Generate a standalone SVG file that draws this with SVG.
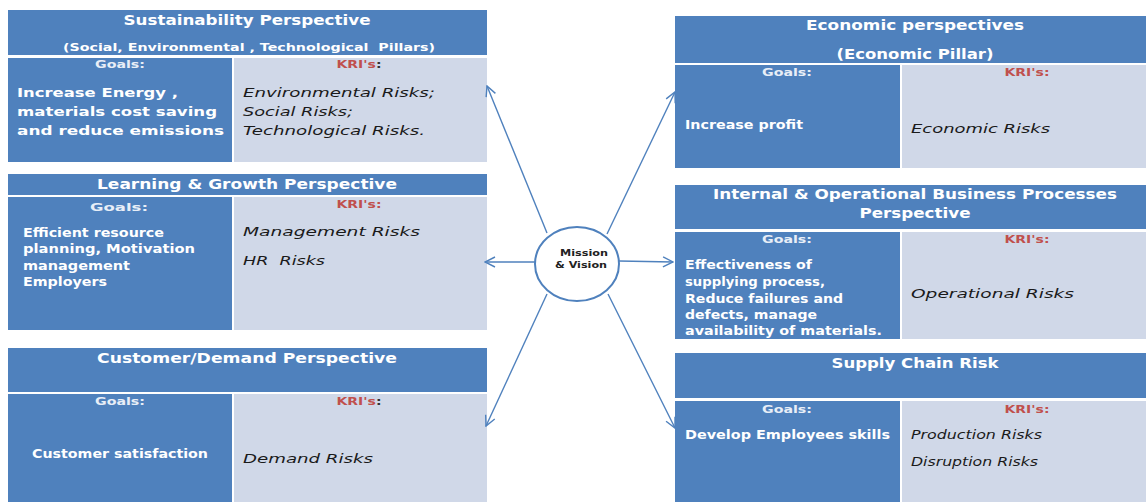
<svg xmlns="http://www.w3.org/2000/svg" width="1146" height="502" viewBox="0 0 1146 502">
<defs>
<style>
.hd{fill:#4F81BD}
.gl{fill:#4F81BD}
.kr{fill:#D0D8E8}
.t{font-family:"DejaVu Sans",Verdana,sans-serif;font-weight:bold;fill:#FFFFFF}
.title{font-size:13.5px;text-anchor:middle}
.sub{font-size:11px;text-anchor:middle}
.glab{font-size:11px;text-anchor:middle;fill:#E8EEF7}
.klab{font-family:"DejaVu Sans",Verdana,sans-serif;font-weight:bold;font-size:11px;text-anchor:middle;fill:#C0504D}
.body{font-size:11.5px}
.it{font-family:"DejaVu Sans",Verdana,sans-serif;font-style:italic;font-size:13px;fill:#1a1a1a}
.pre{white-space:pre}
.conn line{stroke:#4F81BD;stroke-width:1.4;fill:none}
.mv{font-family:"DejaVu Sans",Verdana,sans-serif;font-weight:bold;font-size:8.5px;fill:#222;text-anchor:middle}
</style>
<marker id="ah" viewBox="0 0 12 12" refX="11" refY="6" markerWidth="12" markerHeight="12" markerUnits="userSpaceOnUse" orient="auto">
<path d="M1,1 L11,6 L1,11" fill="none" stroke="#4F81BD" stroke-width="1.4"/>
</marker>
</defs>
<rect width="1146" height="502" fill="#FFFFFF"/>

<g id="sustainability">
<rect class="hd" x="8" y="10" width="479" height="45"/>
<rect class="gl" x="8" y="58" width="224" height="104"/>
<rect class="kr" x="234" y="58" width="253" height="104"/>
<text class="t title" x="247" y="25" textLength="247" lengthAdjust="spacingAndGlyphs">Sustainability Perspective</text>
<text class="t sub pre" x="249" y="51" textLength="372" lengthAdjust="spacingAndGlyphs">(Social, Environmental , Technological  Pillars)</text>
<text class="t glab" x="120" y="68" textLength="50" lengthAdjust="spacingAndGlyphs">Goals:</text>
<text class="klab" x="359" y="68" textLength="45" lengthAdjust="spacingAndGlyphs">KRI's<tspan fill="#333">:</tspan></text>
<text class="t" font-size="13" x="17" y="97" textLength="161" lengthAdjust="spacingAndGlyphs">Increase Energy ,</text>
<text class="t" font-size="13" x="17" y="116" textLength="200" lengthAdjust="spacingAndGlyphs">materials cost saving</text>
<text class="t" font-size="13" x="17" y="135" textLength="207" lengthAdjust="spacingAndGlyphs">and reduce emissions</text>
<text class="it" x="243" y="97" textLength="192" lengthAdjust="spacingAndGlyphs">Environmental Risks;</text>
<text class="it" x="243" y="116" textLength="110" lengthAdjust="spacingAndGlyphs">Social Risks;</text>
<text class="it" x="243" y="135" textLength="182" lengthAdjust="spacingAndGlyphs">Technological Risks.</text>
</g>

<g id="learning">
<rect class="hd" x="8" y="174" width="479" height="21"/>
<rect class="gl" x="8" y="197" width="224" height="133"/>
<rect class="kr" x="234" y="197" width="253" height="133"/>
<text class="t title" x="247" y="189" textLength="300" lengthAdjust="spacingAndGlyphs">Learning &amp; Growth Perspective</text>
<text class="t glab" font-size="13" x="119" y="211" textLength="58" lengthAdjust="spacingAndGlyphs">Goals:</text>
<text class="klab" x="359" y="208" textLength="45" lengthAdjust="spacingAndGlyphs">KRI's:</text>
<text class="t body" x="23" y="237" textLength="141" lengthAdjust="spacingAndGlyphs">Efficient resource</text>
<text class="t body" x="23" y="253" textLength="172" lengthAdjust="spacingAndGlyphs">planning, Motivation</text>
<text class="t body" x="23" y="270" textLength="107" lengthAdjust="spacingAndGlyphs">management</text>
<text class="t body" x="23" y="286" textLength="84" lengthAdjust="spacingAndGlyphs">Employers</text>
<text class="it" x="243" y="236" textLength="177" lengthAdjust="spacingAndGlyphs">Management Risks</text>
<text class="it pre" x="243" y="265" textLength="82" lengthAdjust="spacingAndGlyphs">HR  Risks</text>
</g>

<g id="customer">
<rect class="hd" x="8" y="348" width="479" height="44"/>
<rect class="gl" x="8" y="394" width="224" height="110"/>
<rect class="kr" x="234" y="394" width="253" height="110"/>
<text class="t title" x="247" y="363" textLength="300" lengthAdjust="spacingAndGlyphs">Customer/Demand Perspective</text>
<text class="t glab" x="120" y="405" textLength="50" lengthAdjust="spacingAndGlyphs">Goals:</text>
<text class="klab" x="359" y="405" textLength="45" lengthAdjust="spacingAndGlyphs">KRI's<tspan fill="#333">:</tspan></text>
<text class="t body" x="120" y="458" text-anchor="middle" textLength="176" lengthAdjust="spacingAndGlyphs">Customer satisfaction</text>
<text class="it" x="243" y="463" textLength="130" lengthAdjust="spacingAndGlyphs">Demand Risks</text>
</g>

<g id="economic">
<rect class="hd" x="675" y="16" width="473" height="47"/>
<rect class="gl" x="675" y="65" width="225" height="103"/>
<rect class="kr" x="902" y="65" width="246" height="103"/>
<text class="t title" x="915" y="30" textLength="218" lengthAdjust="spacingAndGlyphs">Economic perspectives</text>
<text class="t title" x="915" y="59" textLength="157" lengthAdjust="spacingAndGlyphs">(Economic Pillar)</text>
<text class="t glab" x="787" y="76" textLength="50" lengthAdjust="spacingAndGlyphs">Goals:</text>
<text class="klab" x="1027" y="76" textLength="45" lengthAdjust="spacingAndGlyphs">KRI's:</text>
<text class="t body" x="685" y="129" textLength="118" lengthAdjust="spacingAndGlyphs">Increase profit</text>
<text class="it" x="911" y="133" textLength="139" lengthAdjust="spacingAndGlyphs">Economic Risks</text>
</g>

<g id="internal">
<rect class="hd" x="675" y="185" width="473" height="44"/>
<rect class="gl" x="675" y="232" width="225" height="107"/>
<rect class="kr" x="902" y="232" width="246" height="107"/>
<text class="t title" x="915" y="199" textLength="404" lengthAdjust="spacingAndGlyphs">Internal &amp; Operational Business Processes</text>
<text class="t title" x="915" y="218" textLength="111" lengthAdjust="spacingAndGlyphs">Perspective</text>
<text class="t glab" x="787" y="243" textLength="50" lengthAdjust="spacingAndGlyphs">Goals:</text>
<text class="klab" x="1027" y="243" textLength="45" lengthAdjust="spacingAndGlyphs">KRI's:</text>
<text class="t body" x="685" y="269" textLength="127" lengthAdjust="spacingAndGlyphs">Effectiveness of</text>
<text class="t body" x="685" y="286" textLength="140" lengthAdjust="spacingAndGlyphs">supplying process,</text>
<text class="t body" x="685" y="303" textLength="158" lengthAdjust="spacingAndGlyphs">Reduce failures and</text>
<text class="t body" x="685" y="319" textLength="132" lengthAdjust="spacingAndGlyphs">defects, manage</text>
<text class="t body" x="685" y="335" textLength="197" lengthAdjust="spacingAndGlyphs">availability of materials.</text>
<text class="it" x="911" y="298" textLength="163" lengthAdjust="spacingAndGlyphs">Operational Risks</text>
</g>

<g id="supply">
<rect class="hd" x="675" y="353" width="473" height="45"/>
<rect class="gl" x="675" y="401" width="225" height="103"/>
<rect class="kr" x="902" y="401" width="246" height="103"/>
<text class="t title" x="915" y="368" textLength="167" lengthAdjust="spacingAndGlyphs">Supply Chain Risk</text>
<text class="t glab" x="787" y="413" textLength="50" lengthAdjust="spacingAndGlyphs">Goals:</text>
<text class="klab" x="1027" y="413" textLength="45" lengthAdjust="spacingAndGlyphs">KRI's:</text>
<text class="t body" x="685" y="439" textLength="205" lengthAdjust="spacingAndGlyphs">Develop Employees skills</text>
<text class="it" font-size="12" x="911" y="439" textLength="131" lengthAdjust="spacingAndGlyphs">Production Risks</text>
<text class="it" font-size="12" x="911" y="466" textLength="127" lengthAdjust="spacingAndGlyphs">Disruption Risks</text>
</g>

<g id="connectors" class="conn">
<line x1="547" y1="233" x2="487" y2="86" marker-end="url(#ah)"/>
<line x1="607" y1="234" x2="675" y2="92" marker-end="url(#ah)"/>
<line x1="535" y1="262" x2="485" y2="262" marker-end="url(#ah)"/>
<line x1="619" y1="261" x2="673" y2="262" marker-end="url(#ah)"/>
<line x1="547" y1="294" x2="486" y2="426" marker-end="url(#ah)"/>
<line x1="608" y1="294" x2="675" y2="428" marker-end="url(#ah)"/>
</g>

<g id="mission">
<ellipse cx="577" cy="264" rx="42" ry="37" fill="#FFFFFF" stroke="#4F81BD" stroke-width="2"/>
<text class="mv" x="584" y="256" textLength="48" lengthAdjust="spacingAndGlyphs">Mission</text>
<text class="mv" x="581" y="268" textLength="52" lengthAdjust="spacingAndGlyphs">&amp; Vision</text>
</g>
</svg>
